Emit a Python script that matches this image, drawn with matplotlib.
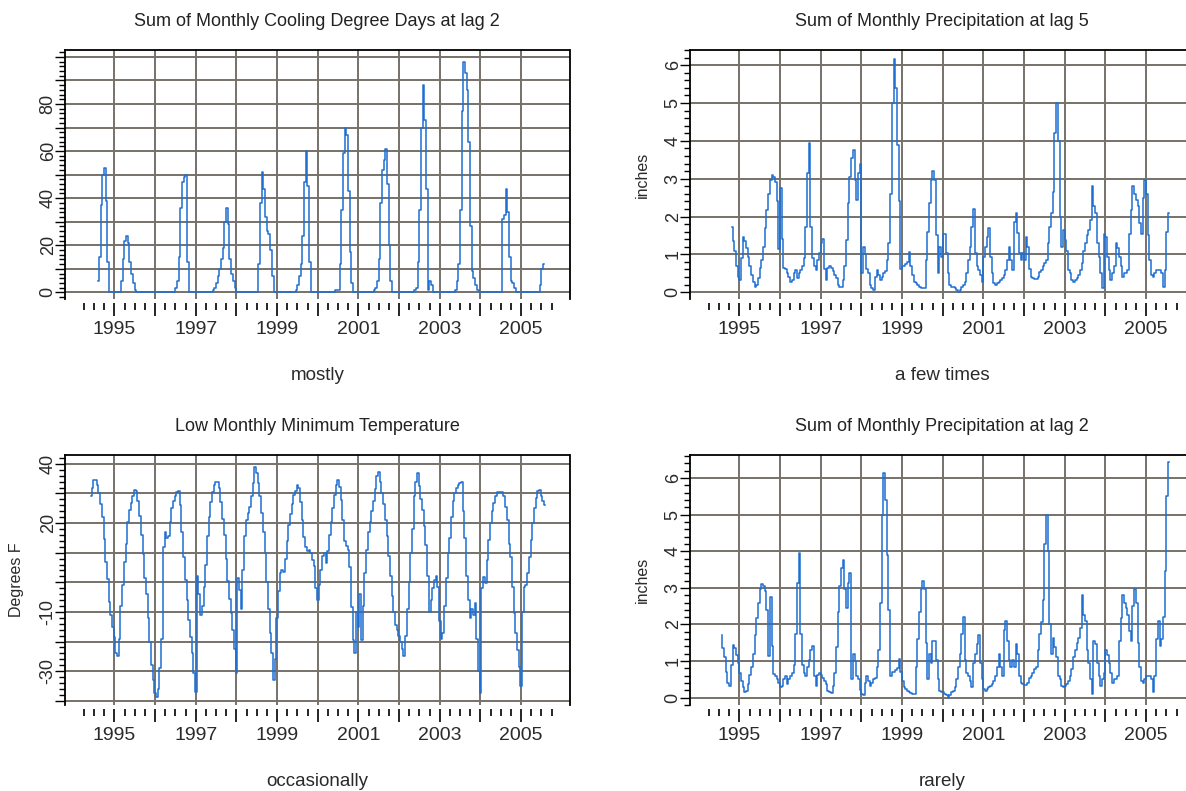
import numpy as np
import matplotlib
matplotlib.use("Agg")
import matplotlib.pyplot as plt
from matplotlib.ticker import FixedLocator, MultipleLocator, FuncFormatter

plt.rcParams['font.family'] = ['Liberation Sans', 'DejaVu Sans']

# half-monthly readings, first value at *_start (decimal year)
cdd_start = 1994.6
cdd_lag2 = [
    5, 15, 37, 50, 53, 39, 13, 0, 0, 0, 0, 0, 0, 0,
    5, 14, 22, 24, 21, 13, 8, 4, 1, 0,
    0, 0, 0, 0, 0, 0, 0, 0, 0, 0, 0, 0, 0, 0, 0, 0, 0, 0, 0, 0, 0,
    0, 2, 5, 15, 36, 47, 49, 50, 13, 0,
    0, 0, 0, 0, 0, 0, 0, 0, 0, 0, 0, 0, 0,
    1, 2, 4, 7, 10, 14, 19, 30, 36, 29, 14, 8, 5, 2, 0,
    0, 0, 0, 0, 0, 0, 0, 0, 0, 0, 0, 0,
    12, 38, 51, 44, 32, 26, 25, 18, 7, 0,
    0, 0, 0, 0, 0, 0, 0, 0, 0, 0, 0, 0,
    1, 3, 7, 12, 24, 47, 60, 45, 13, 0,
    0, 0, 0, 0, 0, 0, 0, 0, 0, 0, 0, 0, 0,
    1, 1, 1, 12, 35, 59, 70, 67, 43, 17, 4, 0,
    0, 0, 0, 0, 0, 0, 0, 0, 0, 0, 0,
    1, 2, 5, 14, 38, 52, 56, 61, 46, 20, 5, 0,
    0, 0, 0, 0, 0, 0, 0, 0, 0, 0, 0, 0,
    1, 2, 13, 35, 70, 88, 73, 44, 1, 5, 3, 0,
    0, 0, 0, 0, 0, 0, 0, 0, 0, 0, 0,
    0, 1, 5, 12, 35, 77, 98, 93, 86, 64, 28, 9, 6, 3, 1, 0,
    0, 0, 0, 0, 0, 0, 0, 0, 0, 0, 0, 0,
    0, 31, 33, 44, 34, 15, 5, 4, 2, 0,
    0, 0, 0, 0, 0, 0, 0, 0, 0, 0, 0, 0,
    0, 3, 10, 12,
]

precip_start = 1994.56   # lag 2
lag_shift = 0.25         # lag 5 is three months later
precip_end = 2005.57
precip = [
    1.72, 1.35, 1.1, 0.7, 0.4, 0.33, 0.9, 1.45, 1.35, 1.16, 0.94, 0.68,
    0.46, 0.28, 0.15, 0.19, 0.37, 0.63, 0.85, 1.2, 1.7, 2.17, 2.6, 2.96,
    3.1, 3.05, 2.92, 2.4, 1.15, 2.75, 1.4, 0.65, 0.6, 0.5, 0.41, 0.28,
    0.32, 0.5, 0.59, 0.37, 0.5, 0.59, 0.68, 0.9, 1.73, 3.14, 3.95, 1.73,
    0.9, 0.68, 0.59, 0.85, 1.03, 1.3, 1.4, 0.6, 0.32, 0.63, 0.68, 0.63,
    0.55, 0.46, 0.37, 0.19, 0.15, 0.13, 0.32, 0.68, 1.38, 2.35, 3.05, 3.54,
    3.75, 2.96, 2.44, 3.14, 3.4, 0.5, 1.2, 1.0, 0.6, 0.5, 0.2, 0.1,
    0.06, 0.41, 0.59, 0.46, 0.32, 0.41, 0.5, 0.55, 0.85, 1.3, 2.6, 5.0,
    6.15, 5.4, 3.9, 2.4, 0.6, 0.7, 0.7, 0.75, 0.8, 1.05, 0.7, 0.46,
    0.28, 0.24, 0.19, 0.15, 0.12, 0.1, 0.1, 0.85, 1.6, 2.35, 2.96, 3.2,
    2.96, 1.5, 0.5, 1.2, 0.94, 1.55, 1.55, 1.03, 0.5, 0.19, 0.15, 0.15,
    0.1, 0.06, 0.0, 0.06, 0.15, 0.19, 0.28, 0.5, 0.85, 1.2, 1.73, 2.2,
    1.03, 0.68, 0.59, 0.46, 0.28, 0.94, 1.2, 1.47, 1.7, 0.94, 0.5, 0.24,
    0.19, 0.24, 0.28, 0.32, 0.37, 0.46, 0.59, 0.85, 1.2, 0.85, 0.59, 1.86,
    2.1, 1.56, 1.03, 0.85, 1.03, 0.85, 1.47, 1.2, 0.6, 0.41, 0.37, 0.34,
    0.34, 0.41, 0.54, 0.59, 0.68, 0.77, 0.85, 1.29, 1.73, 2.08, 2.66, 4.2,
    5.0, 4.0, 2.0, 1.2, 1.64, 1.38, 1.1, 0.59, 0.5, 0.32, 0.28, 0.32,
    0.37, 0.46, 0.59, 0.77, 1.1, 1.3, 1.5, 1.64, 1.9, 2.8, 2.27, 2.1,
    1.3, 0.94, 0.5, 0.1, 1.55, 1.47, 0.94, 0.59, 0.32, 0.5, 0.68, 1.29,
    1.16, 0.94, 0.68, 0.41, 0.5, 0.5, 0.59, 1.55, 2.17, 2.8, 2.6, 2.44,
    2.27, 1.82, 1.55, 2.5, 2.96, 2.6, 1.5, 0.85, 0.45, 0.41, 0.5, 0.59,
    0.59, 0.59, 0.5, 0.15, 0.59, 1.6, 2.1, 1.4, 1.6, 2.2, 3.45, 5.5,
    6.45,
]

temp_start = 1994.42
low_min_temp = [
    29, 32, 34.5, 34.6, 33, 30, 26.5, 22, 14.5, 7, 1, -6.5,
    -11, -15, -18.5, -24, -25, -19, -8, -1, 7, 13, 20.5, 24.5,
    26.8, 29.2, 31.3, 31, 27.5, 22.5, 16, 9.5, 1.5, -4, -12, -20,
    -28, -33, -37.5, -38.6, -36, -29, -19, 12, 17, 15, 15.5, 20.5,
    25, 27.5, 29, 30.5, 31, 26, 17, 8.7, 0.8, -6, -12.7, -18.4,
    -24, -30.8, -37, 2, -4, -11, -8, -1.5, 6, 15.5, 22, 27,
    30.5, 32.8, 33.8, 34, 32, 27, 21.5, 16, 8, 0.5, -5.5, -10.5,
    -16, -22.5, -30.5, 1.5, -2.6, -9, 4, 15.5, 21, 23.3, 25.6, 29,
    33.5, 39, 37, 33.5, 29, 23.5, 17, 10, 0, -9, -17, -24,
    -33, -26, -12, -3, 3, 4, 3.5, 8, 14, 19.5, 23, 26.5,
    29.5, 31, 33, 32, 27, 21, 15.4, 12, 10.5, 11, 10, 7.5,
    5.5, -2, -6, -1, 4, 9, 10, 6.5, 10.5, 16, 20.5, 25,
    29.5, 33, 34.6, 32.3, 27.8, 21.1, 14, 12.1, 11, 5.3, -8.2, -19.5,
    -24, -10, -15, -4, -19.5, -8, 3, 11, 17, 20.5, 24, 27.5,
    31.5, 36, 37.4, 34, 30, 26.5, 21, 15.5, 9, 2, -4.5, -10,
    -14.5, -16, -18, -20, -22.5, -25, -18, -9, 0, 10, 18, 29,
    34, 36.8, 32.5, 28, 24.5, 19, 12.5, 2, -10, -6, -2, 0.8,
    2, -1.5, -13, -19, -17, -8, 1.5, 10, 15, 22, 27.5, 30,
    31.8, 32.9, 33.5, 34, 24, 15, 2, -6, -12, -9, -11, -7,
    -19, -30, -37.5, -2, 1.9, -0.3, 7.5, 14.3, 20, 24, 26.7, 29,
    30.6, 30.6, 30.6, 30.6, 29, 25.6, 21, 13, 8.7, -1.5, -10.5, -17,
    -23, -28.5, -35, -10, -1.5, -1, 3, 8.7, 14.3, 20, 25, 28.5,
    30.8, 31.2, 29, 27.3, 26.1,
]

titles = ["Sum of Monthly Cooling Degree Days at lag 2",
          "Sum of Monthly Precipitation at lag 5",
          "Low Monthly Minimum Temperature",
          "Sum of Monthly Precipitation at lag 2"]
notes = ["mostly", "a few times", "occasionally", "rarely"]


def semi_monthly(start, values):
    return start + np.arange(len(values)) / 24.0


W, H = 1186, 791
fig = plt.figure(figsize=(W / 100, H / 100), dpi=100)

line_c = '#1f6fd2'
grid_c = '#76726a'
text_c = '#2a2a2a'
XLIM = (1993.785, 2006.19)
years = list(range(1995, 2006))
quarters = [y + q / 4 for y in range(1994, 2006) for q in (1, 2, 3)]


def panel(l, t, r, b, x, y, ylim, ystep, yminor, ylabs, title, note, ylab=None):
    ax = fig.add_axes([l / W, 1 - b / H, (r - l) / W, (b - t) / H])
    ax.plot(x, y, color=line_c, lw=1.1, drawstyle='steps-mid', zorder=3)
    ax.set_xlim(XLIM)
    ax.set_ylim(ylim)

    ax.xaxis.set_major_locator(FixedLocator(years))
    ax.xaxis.set_minor_locator(FixedLocator(quarters))
    ax.xaxis.set_major_formatter(FuncFormatter(
        lambda v, p: str(int(round(v))) if int(round(v)) % 2 else ''))
    ax.yaxis.set_major_locator(MultipleLocator(ystep))
    ax.yaxis.set_minor_locator(MultipleLocator(yminor))
    ax.yaxis.set_major_formatter(FuncFormatter(
        lambda v, p: '%g' % round(v, 3) if any(abs(v - q) < 1e-6 for q in ylabs) else ''))

    ax.grid(True, which='major', color=grid_c, lw=1.4, zorder=1)
    ax.set_axisbelow(True)

    ax.spines['bottom'].set_position(('outward', 3))
    ax.spines['bottom'].set_visible(False)
    for s in ('left', 'top', 'right'):
        ax.spines[s].set_linewidth(1.3)

    ax.tick_params(axis='x', which='major', length=9, width=1.2, labelsize=14,
                   labelcolor=text_c, pad=4)
    ax.tick_params(axis='x', which='minor', length=5, width=1.2)
    ax.tick_params(axis='y', which='major', length=7, width=1.0, labelsize=13,
                   labelcolor=text_c, labelrotation=90, pad=-1)
    ax.tick_params(axis='y', which='minor', length=4, width=1.0)
    for lab in ax.get_yticklabels():
        lab.set_va('center')

    for tk in ax.xaxis.get_major_ticks():
        if round(tk.get_loc()) in (1995, 2000, 2005):
            tk.tick1line.set_markeredgewidth(3)

    cx = (l + r) / 2
    fig.text(cx / W, 1 - (t - 28) / H, title, ha='center', va='center',
             fontsize=13, color='#222222')
    fig.text(cx / W, 1 - (b + 76) / H, note, ha='center', va='center',
             fontsize=13.5, color=text_c)
    if ylab:
        fig.text((l - 48) / W, 1 - (t + b) / 2 / H, ylab, ha='center', va='center',
                 rotation=90, fontsize=11.5, color=text_c)
    return ax


x_cdd = semi_monthly(cdd_start, cdd_lag2)
x_p2 = semi_monthly(precip_start, precip)
x_p5 = x_p2 + lag_shift
keep5 = x_p5 <= precip_end
x_t = semi_monthly(temp_start, low_min_temp)

panel(65, 50, 569.5, 299, x_cdd, cdd_lag2, (-2.8, 102.9), 10, 2,
      [0, 20, 40, 60, 80], titles[0], notes[0])
panel(690, 50, 1194.5, 299, x_p5[keep5], np.array(precip)[keep5], (-0.18, 6.4), 1, 0.2,
      [0, 1, 2, 3, 4, 5, 6], titles[1], notes[1], 'inches')
panel(65, 455, 569.5, 705, x_t, low_min_temp, (-41.45, 43.0), 10, 2,
      [40, 20, -10, -30], titles[2], notes[2], 'Degrees F')
panel(690, 455, 1194.5, 705, x_p2, precip, (-0.2, 6.63), 1, 0.2,
      [0, 1, 2, 3, 4, 5, 6], titles[3], notes[3], 'inches')

fig.savefig('out.png', dpi=100)
